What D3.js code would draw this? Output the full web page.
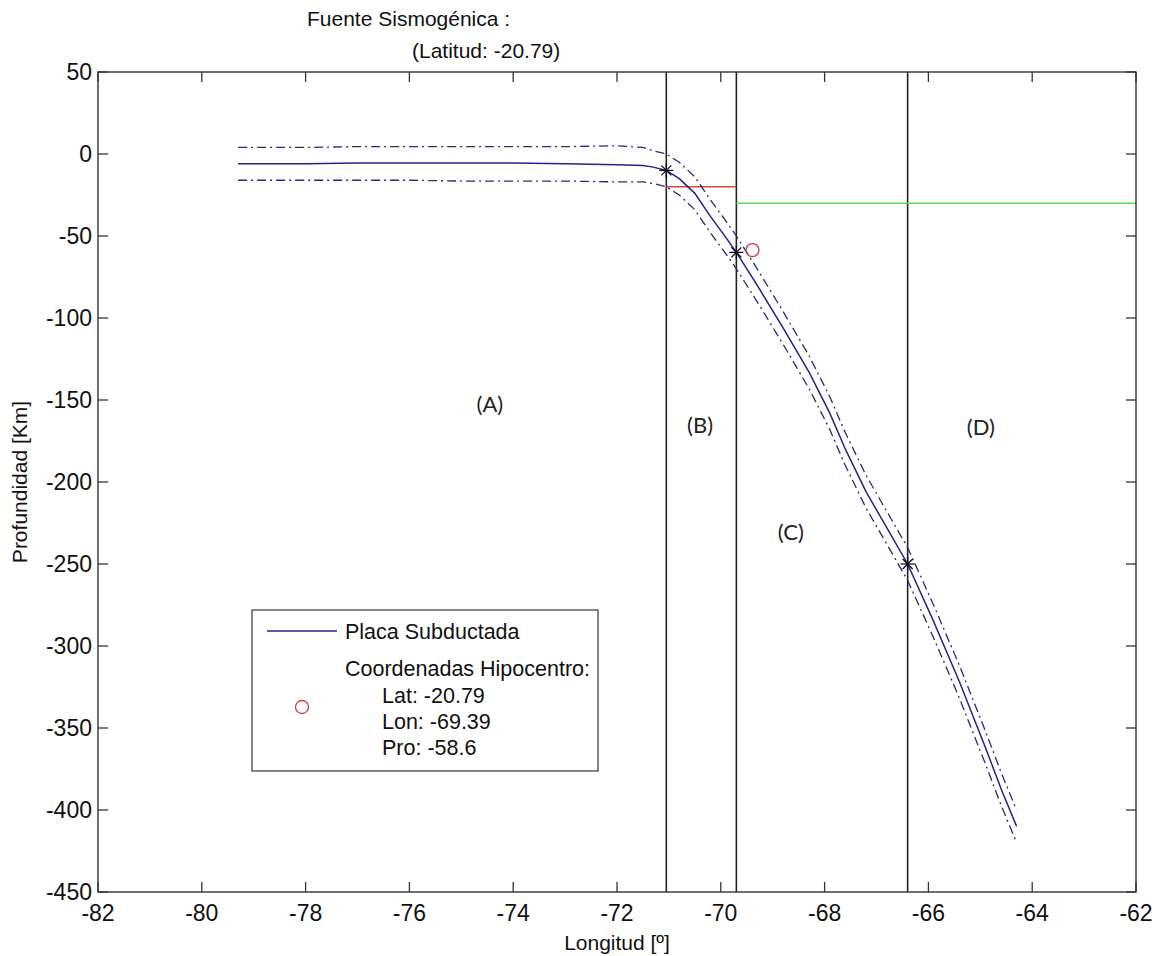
<!DOCTYPE html>
<html><head><meta charset="utf-8">
<script src="https://cdn.jsdelivr.net/npm/d3@7"></script>
<style>
html,body{margin:0;padding:0;background:#fff;}
svg text{font-family:"Liberation Sans",Arial,sans-serif;}
</style></head>
<body>
<svg id="chart" width="1156" height="956"></svg>
<script>
// ---- data ----
const xTicks = [-82,-80,-78,-76,-74,-72,-70,-68,-66,-64,-62];
const yTicks = [50,0,-50,-100,-150,-200,-250,-300,-350,-400,-450];
const slabLon   = [-79.3,-78,-77,-76,-75,-74,-73,-72,-71.5,-71.3,-71.05,-70.8,-70.5,-70.2,-69.9,-69.7,-69.3,-68.8,-68.3,-67.9,-67.6,-67.2,-66.8,-66.4,-65.9,-65.4,-64.9,-64.6,-64.3];
const slabDepth = [-6,-6,-5.5,-5.5,-5.5,-5.5,-6,-6.5,-7,-8,-10,-15,-24,-38,-51,-60,-80,-106,-133,-158,-180,-206,-228,-250,-285,-322,-362,-387,-410];
const upperDepth= [4,4,4.5,4.5,4.5,4.5,4.5,5,4,2,0,-5,-14,-28,-41,-50,-70,-96,-123,-148,-170,-196,-218,-240,-275,-312,-352,-377,-400];
const lowerDepth= [-16,-16,-16,-16,-16.5,-16.5,-16.5,-17,-17,-18,-20,-25,-34,-48,-61,-70,-90,-116,-143,-168,-190,-216,-238,-260,-295,-332,-372,-397,-420];
const zoneLon = [-71.05,-69.7,-66.4];
const starLon = [-71.05,-69.7,-66.4];
const starDepth = [-10,-60,-250];
const redSeg = {lon:[-71.05,-69.7], depth:-20};
const greenSeg = {lon:[-69.7,-62], depth:-30};
const hypo = {lat:-20.79, lon:-69.39, depth:-58.6};
const zoneLabels = ["(A)","(B)","(C)","(D)"];
const zoneLabelLon = [-74.45,-70.4,-68.65,-64.99];
const zoneLabelDepth = [-152,-165,-230,-166];

// ---- layout ----
const L=98, R=1136, T=72, B=892;
const svg = d3.select("#chart");
const x = d3.scaleLinear().domain([-82,-62]).range([L,R]);
const y = d3.scaleLinear().domain([-450,50]).range([B,T]);
const axisColor="#333";

// zone vertical lines
svg.selectAll("line.zone").data(zoneLon).join("line")
  .attr("x1",d=>x(d)).attr("x2",d=>x(d)).attr("y1",y(50)).attr("y2",y(-450))
  .attr("stroke","#222").attr("stroke-width",1.6);

// red & green segments
svg.append("line").attr("x1",x(redSeg.lon[0])).attr("x2",x(redSeg.lon[1]))
  .attr("y1",y(redSeg.depth)).attr("y2",y(redSeg.depth))
  .attr("stroke","#d04a3a").attr("stroke-width",1.4);
svg.append("line").attr("x1",x(greenSeg.lon[0])).attr("x2",x(greenSeg.lon[1]))
  .attr("y1",y(greenSeg.depth)).attr("y2",y(greenSeg.depth))
  .attr("stroke","#5cd65c").attr("stroke-width",1.6);

// slab lines
const line = d3.line().x(d=>x(d[0])).y(d=>y(d[1]));
const mk = arr => slabLon.map((v,i)=>[v,arr[i]]);
svg.append("path").attr("d",line(mk(upperDepth))).attr("fill","none")
  .attr("stroke","#2a2a78").attr("stroke-width",1.3).attr("stroke-dasharray","9,4,2,4");
svg.append("path").attr("d",line(mk(lowerDepth))).attr("fill","none")
  .attr("stroke","#2a2a78").attr("stroke-width",1.3).attr("stroke-dasharray","9,4,2,4");
svg.append("path").attr("d",line(mk(slabDepth))).attr("fill","none")
  .attr("stroke","#23238c").attr("stroke-width",1.5);

// stars
const star = svg.selectAll("g.star").data(starLon.map((v,i)=>[v,starDepth[i]])).join("g")
  .attr("transform",d=>`translate(${x(d[0])},${y(d[1])})`);
[[-7,0,7,0],[0,-7,0,7],[-5,-5,5,5],[-5,5,5,-5]].forEach(s=>{
  star.append("line").attr("x1",s[0]).attr("y1",s[1]).attr("x2",s[2]).attr("y2",s[3])
    .attr("stroke","#111").attr("stroke-width",1.3);
});

// hypocenter
svg.append("circle").attr("cx",x(hypo.lon)).attr("cy",y(hypo.depth)).attr("r",6.5)
  .attr("fill","none").attr("stroke","#c8403a").attr("stroke-width",1.3);

// zone labels
svg.selectAll("text.zl").data(zoneLabels).join("text")
  .attr("x",(d,i)=>x(zoneLabelLon[i])).attr("y",(d,i)=>y(zoneLabelDepth[i]))
  .attr("text-anchor","middle").attr("dominant-baseline","central")
  .style("font-family","Lato, 'Open Sans', sans-serif").attr("font-size",22).attr("fill","#222")
  .text(d=>d);

// axes box with inward ticks
const g = svg.append("g");
g.append("rect").attr("x",L).attr("y",T).attr("width",R-L).attr("height",B-T)
  .attr("fill","none").attr("stroke",axisColor).attr("stroke-width",1.4);
const tl=10;
xTicks.forEach(t=>{
  g.append("line").attr("x1",x(t)).attr("x2",x(t)).attr("y1",B).attr("y2",B-tl).attr("stroke",axisColor).attr("stroke-width",1.3);
  g.append("line").attr("x1",x(t)).attr("x2",x(t)).attr("y1",T).attr("y2",T+tl).attr("stroke",axisColor).attr("stroke-width",1.3);
  g.append("text").attr("x",x(t)).attr("y",B+29).attr("text-anchor","middle").attr("font-size",23).attr("fill","#111").text(t);
});
yTicks.forEach(t=>{
  g.append("line").attr("x1",L).attr("x2",L+tl).attr("y1",y(t)).attr("y2",y(t)).attr("stroke",axisColor).attr("stroke-width",1.3);
  g.append("line").attr("x1",R).attr("x2",R-tl).attr("y1",y(t)).attr("y2",y(t)).attr("stroke",axisColor).attr("stroke-width",1.3);
  g.append("text").attr("x",L-6).attr("y",y(t)+8).attr("text-anchor","end").attr("font-size",23).attr("fill","#111").text(t);
});

// axis titles
svg.append("text").attr("x",(L+R)/2).attr("y",950).attr("text-anchor","middle").attr("font-size",21).attr("fill","#111").text("Longitud [º]");
svg.append("text").attr("transform",`translate(27,${(T+B)/2}) rotate(-90)`).attr("text-anchor","middle").attr("font-size",21).attr("fill","#111").text("Profundidad [Km]");

// title
svg.append("text").attr("x",307).attr("y",26).attr("font-size",21).attr("fill","#111").text("Fuente Sismogénica :");
svg.append("text").attr("x",412).attr("y",58).attr("font-size",21).attr("fill","#111").text("(Latitud: -20.79)");

// legend
const lg = svg.append("g");
const legendLines = ["Coordenadas Hipocentro:","Lat: "+hypo.lat,"Lon: "+hypo.lon,"Pro: "+hypo.depth];
const lgText = lg.append("g");
const lfs = 21.5;
lgText.append("text").attr("x",345).attr("y",639).attr("font-size",lfs).attr("fill","#111").text("Placa Subductada");
lgText.append("text").attr("x",345).attr("y",676).attr("font-size",lfs).attr("fill","#111").text(legendLines[0]);
lgText.append("text").attr("x",382).attr("y",703).attr("font-size",lfs).attr("fill","#111").text(legendLines[1]);
lgText.append("text").attr("x",382).attr("y",729).attr("font-size",lfs).attr("fill","#111").text(legendLines[2]);
lgText.append("text").attr("x",382).attr("y",755).attr("font-size",lfs).attr("fill","#111").text(legendLines[3]);
const bb = lgText.node().getBBox();
lg.insert("rect",":first-child").attr("x",252).attr("y",610).attr("width",bb.x+bb.width+8-252).attr("height",161)
  .attr("fill","#fff").attr("stroke","#444").attr("stroke-width",1.3);
lg.append("line").attr("x1",267).attr("x2",337).attr("y1",631).attr("y2",631).attr("stroke","#23238c").attr("stroke-width",1.5);
lg.append("circle").attr("cx",302).attr("cy",707).attr("r",6.5).attr("fill","none").attr("stroke","#c8403a").attr("stroke-width",1.3);
</script>
</body></html>
